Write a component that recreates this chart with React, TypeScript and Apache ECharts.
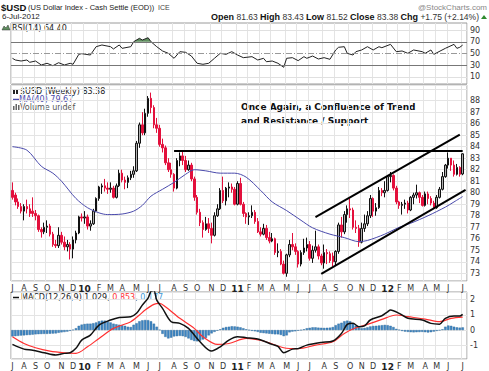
import React, { useEffect, useRef } from 'react';
import * as echarts from 'echarts';

// ---- categories: weekly bars (Fridays) 10-Jul-2009 .. 6-Jul-2012, plus one blank slot of padding
const FIRST_WEEK = Date.UTC(2009, 6, 10);
const N_WEEKS = 157;
const WEEKS: string[] = [];
for (let i = 0; i < N_WEEKS; i++) {
  WEEKS.push(new Date(FIRST_WEEK + i * 7 * 86400000).toISOString().slice(0, 10));
}
const CATEGORIES: string[] = [...WEEKS, ''];
const MONTH_LETTERS = 'JFMAMJJASOND';

// ---- weekly candles [open, close, low, high]
const CANDLES: number[][] = [
  [80.2, 79.6, 79.4, 80.9], [79.8, 79.2, 78.9, 80.0], [79.2, 78.8, 78.6, 79.5], [78.8, 78.4, 78.2, 79.1],
  [78.4, 78.8, 77.6, 79.0], [78.8, 78.6, 78.2, 79.4], [78.6, 78.2, 77.9, 79.0], [78.4, 78.2, 77.9, 79.6],
  [78.2, 78.0, 77.6, 78.5], [78.0, 76.8, 76.6, 78.1], [76.8, 76.6, 76.1, 77.0], [76.6, 77.0, 76.4, 77.4],
  [77.0, 77.1, 76.5, 77.6], [77.1, 76.4, 76.2, 77.3], [76.4, 75.5, 75.3, 76.6], [75.5, 75.4, 75.2, 75.9],
  [75.4, 76.3, 75.2, 77.0], [76.3, 75.7, 75.5, 76.6], [75.7, 75.3, 75.0, 76.2], [75.3, 75.5, 74.9, 75.9],
  [75.5, 75.1, 74.2, 75.7], [75.1, 75.9, 74.3, 76.2], [75.9, 76.5, 75.6, 76.7], [76.5, 77.9, 76.4, 78.0],
  [77.9, 77.8, 77.5, 78.2], [77.8, 77.9, 77.3, 78.4], [77.9, 77.1, 76.8, 78.1], [77.1, 77.3, 76.7, 77.6],
  [77.3, 78.4, 77.2, 78.6], [78.4, 79.5, 78.3, 79.6], [79.5, 80.5, 79.3, 80.6], [80.5, 80.6, 79.9, 80.8],
  [80.6, 80.4, 80.1, 81.2], [80.4, 80.3, 79.9, 80.9], [80.3, 80.4, 80.0, 80.9], [80.4, 79.6, 79.5, 80.6],
  [79.6, 80.6, 79.5, 80.8], [80.6, 81.7, 80.5, 82.0], [81.7, 81.1, 80.9, 82.0], [81.1, 80.9, 80.3, 81.4],
  [80.9, 81.3, 80.4, 81.5], [81.3, 81.6, 81.1, 81.9], [81.6, 81.9, 81.3, 82.3], [81.9, 84.3, 81.8, 84.5],
  [84.3, 85.9, 83.9, 86.1], [85.9, 85.2, 85.0, 87.0], [85.2, 86.9, 85.0, 87.3], [86.9, 88.2, 86.6, 88.4],
  [88.2, 87.4, 86.9, 88.7], [87.4, 85.9, 85.6, 87.6], [85.9, 85.6, 85.2, 86.5], [85.6, 84.2, 84.0, 85.9],
  [84.2, 83.9, 83.5, 84.7], [83.9, 82.6, 82.4, 84.1], [82.6, 82.0, 81.8, 83.0], [82.0, 81.6, 81.3, 82.6],
  [81.6, 80.4, 80.1, 81.7], [80.4, 82.8, 80.3, 83.0], [82.8, 83.2, 82.3, 83.5], [83.2, 82.8, 82.4, 83.6],
  [82.8, 82.0, 81.8, 83.2], [82.0, 82.4, 81.9, 82.8], [82.4, 81.2, 81.0, 82.6], [81.2, 79.6, 79.3, 81.4],
  [79.6, 78.3, 78.1, 79.8], [78.3, 77.4, 77.1, 78.6], [77.4, 76.8, 76.1, 77.6], [76.8, 77.3, 76.7, 77.9],
  [77.3, 76.9, 76.5, 77.8], [76.9, 76.3, 75.6, 77.4], [76.3, 78.0, 76.2, 78.3], [78.0, 78.6, 77.9, 79.0],
  [78.6, 80.2, 78.5, 80.4], [80.2, 79.3, 79.1, 81.4], [79.3, 80.4, 78.9, 80.5], [80.4, 80.5, 79.6, 80.9],
  [80.5, 80.3, 80.0, 80.8], [80.3, 79.0, 78.9, 80.5], [79.0, 80.8, 78.9, 81.0], [80.8, 79.0, 78.9, 81.3],
  [79.0, 78.2, 77.9, 79.2], [78.2, 77.9, 77.3, 78.3], [77.9, 78.0, 77.2, 78.3], [78.0, 78.3, 77.8, 78.9],
  [78.3, 77.5, 77.3, 78.5], [77.5, 76.6, 76.5, 77.8], [76.6, 76.4, 76.2, 77.0], [76.4, 76.9, 76.3, 77.3],
  [76.9, 76.1, 75.9, 77.2], [76.1, 75.8, 75.6, 76.6], [75.8, 76.0, 75.7, 76.5], [76.0, 74.8, 74.6, 76.1],
  [74.8, 74.9, 74.4, 75.6], [74.9, 73.8, 73.7, 75.1], [73.8, 73.0, 72.9, 74.1], [73.0, 74.6, 72.7, 74.7],
  [74.6, 75.5, 74.4, 75.9], [75.5, 75.3, 75.0, 76.5], [75.3, 74.9, 74.6, 75.6], [74.9, 73.8, 73.5, 75.0],
  [73.8, 74.8, 73.6, 75.0], [74.8, 75.2, 74.6, 76.0], [75.2, 75.5, 74.9, 76.1], [75.5, 74.3, 74.1, 75.8],
  [74.3, 75.0, 73.9, 75.4], [75.0, 75.3, 74.8, 76.7], [75.3, 74.5, 74.2, 75.5], [74.5, 73.9, 73.7, 74.7],
  [73.9, 74.8, 73.4, 75.5], [74.8, 74.7, 73.8, 75.1], [74.7, 74.1, 73.9, 74.9], [74.5, 74.0, 73.6, 74.8],
  [74.0, 74.9, 73.7, 75.0], [74.9, 77.2, 74.7, 77.4], [77.2, 76.6, 76.1, 77.9], [76.6, 78.1, 76.4, 78.4],
  [78.1, 78.6, 77.4, 78.9], [78.6, 78.5, 77.8, 79.5], [78.5, 77.0, 76.8, 78.7], [77.0, 76.9, 76.5, 77.6],
  [76.9, 75.7, 75.3, 77.2], [75.7, 76.9, 75.6, 77.4], [76.9, 77.3, 76.6, 78.1], [77.3, 78.0, 77.1, 78.4],
  [78.0, 79.5, 77.8, 79.8], [79.5, 78.4, 77.9, 79.6], [78.4, 78.7, 78.0, 79.1], [78.7, 80.2, 78.6, 80.5],
  [80.2, 80.0, 79.7, 80.4], [80.0, 80.2, 79.6, 81.0], [80.2, 81.4, 80.1, 81.5], [81.4, 81.5, 80.9, 81.8],
  [81.5, 80.4, 80.2, 81.6], [80.4, 79.2, 79.0, 80.6], [79.2, 78.9, 78.6, 79.3], [78.9, 79.0, 78.1, 79.2],
  [79.0, 79.1, 78.6, 79.4], [79.1, 78.5, 78.2, 79.3], [78.5, 79.6, 78.4, 79.7], [79.6, 79.8, 79.0, 80.0],
  [79.8, 80.0, 79.5, 80.7], [80.0, 79.6, 79.1, 80.1], [79.6, 78.9, 78.8, 79.8], [78.9, 79.9, 78.8, 80.1],
  [79.9, 79.5, 79.0, 80.1], [79.5, 79.1, 78.9, 79.7], [79.1, 78.7, 78.6, 79.3], [78.7, 79.6, 78.6, 79.8],
  [79.6, 80.3, 79.5, 80.5], [80.3, 81.4, 80.2, 81.8], [81.4, 82.4, 81.3, 82.5], [82.4, 83.0, 82.1, 83.5],
  [83.0, 82.4, 81.9, 83.0], [82.4, 81.6, 81.4, 82.8], [81.6, 82.2, 81.5, 82.5], [82.2, 81.6, 81.4, 82.3],
  [81.63, 83.38, 81.52, 83.43],
];

// ---- MA(40): [week index, value]
const MA40: number[][] = [
  [0, 84.0], [5, 83.7], [10, 82.3], [14, 81.7], [17, 81.0], [22, 79.5], [26, 78.7], [30, 78.25],
  [33, 78.1], [38, 78.15], [42, 78.4], [45, 78.9], [48, 79.7], [52, 80.3], [56, 80.9], [60, 81.6],
  [63, 82.0], [67, 81.9], [72, 81.7], [77, 81.7], [81, 81.35], [86, 80.2], [90, 79.2], [95, 78.45],
  [100, 77.6], [104, 76.95], [110, 76.4], [115, 76.1], [120, 75.75], [123, 75.85], [129, 76.4],
  [134, 77.0], [138, 77.35], [144, 78.0], [150, 78.75], [153, 79.2], [156, 79.67],
];

// ---- RSI(14): [week index, value]
const RSI14: number[][] = [
  [0, 41.8], [1, 38.9], [3, 37.2], [5, 38.9], [6, 35], [8, 37.2], [10, 30.4], [12, 33.3], [14, 29.2],
  [16, 34.3], [18, 30.4], [20, 33.3], [21, 31.6], [23, 48.6], [24, 49.7], [27, 47.4], [29, 61.6],
  [31, 64.5], [34, 61.6], [35, 57.7], [37, 64.5], [38, 58.8], [41, 61.6], [42, 70.1], [44, 75.9],
  [45, 73], [47, 76.9], [48, 70.1], [50, 61.6], [52, 54.3], [54, 50.3], [56, 41.8], [58, 53.1],
  [60, 52], [62, 45.7], [64, 33.3], [66, 31.6], [68, 33.3], [70, 41.8], [72, 50.3], [74, 48.6],
  [76, 53.1], [78, 47.4], [80, 42.9], [83, 44.6], [85, 38.9], [87, 41.8], [88, 36], [90, 37.2],
  [92, 33.3], [94, 26.5], [95, 41.8], [97, 42.9], [99, 37.8], [101, 44.6], [102, 41.8], [104, 45.7],
  [106, 40.6], [108, 42.9], [110, 40.1], [112, 56], [113, 60.6], [115, 61.6], [116, 50.3], [118, 47.4],
  [119, 53.1], [121, 56], [123, 61.6], [125, 56], [127, 61.6], [128, 59.9], [131, 65.6], [133, 53.1],
  [135, 54.3], [137, 50.3], [139, 56], [142, 53.1], [143, 50.3], [145, 56], [146, 48.6], [150, 58.8],
  [153, 65.6], [154, 58.8], [155, 60.6], [156, 64.4],
];
const RSI_OVERBOUGHT: number[][] = [[42, 70], [44, 75.9], [45, 73], [47, 76.9], [48, 70]];
const RSI_TICKS = [10, 30, 50, 70, 90];

// ---- MACD(12,26,9)
const MACD_LINE: number[][] = [
  [0, -0.94], [4, -1.25], [7, -1.32], [11, -1.49], [15, -1.64], [18, -1.53], [20, -1.49], [22, -1.2],
  [24, -0.66], [27, -0.33], [30, 0.33], [34, 0.66], [37, 0.83], [41, 0.88], [43, 1.1], [45, 1.64],
  [47, 2.1], [48, 2.55], [49, 2.6], [50, 1.97], [52, 1.43], [55, 0.55], [58, 0.44], [61, 0.11],
  [65, -0.77], [69, -1.38], [72, -1.1], [75, -0.66], [78, -0.44], [81, -0.5], [85, -0.59], [90, -0.94],
  [92, -1.07], [94, -1.49], [97, -1.25], [99, -1.22], [102, -0.99], [107, -0.81], [111, -0.72],
  [114, -0.22], [116, 0.37], [118, 0.44], [120, 0.22], [122, 0.28], [124, 0.66], [128, 0.94],
  [130, 1.2], [131, 1.32], [134, 1.1], [137, 0.77], [142, 0.66], [145, 0.44], [148, 0.39], [150, 0.77],
  [153, 0.92], [155, 0.92], [156, 1.029],
];
const MACD_SIGNAL: number[][] = [
  [0, -0.44], [4, -0.88], [8, -1.16], [13, -1.38], [18, -1.49], [22, -1.53], [26, -1.1], [30, -0.55],
  [35, 0.11], [41, 0.55], [44, 0.99], [46, 1.32], [49, 1.69], [51, 1.75], [53, 1.53], [58, 0.77],
  [63, 0.11], [66, -0.44], [71, -0.94], [75, -0.88], [81, -0.55], [87, -0.72], [94, -1.16], [99, -1.22],
  [105, -0.99], [111, -0.77], [115, -0.22], [119, 0.15], [123, 0.37], [128, 0.7], [133, 0.99],
  [137, 0.88], [143, 0.72], [148, 0.55], [152, 0.77], [156, 0.853],
];
const MACD_HIST: number[] = [
  -0.42, -0.40, -0.38,
  -0.36, -0.35, -0.33, -0.32, -0.30, -0.28,
  -0.27, -0.26, -0.25, -0.25, -0.24, -0.23, -0.22,
  -0.18, -0.15, -0.13, -0.10,
  -0.05, 0.02, 0.12,
  0.28,
  0.36, 0.40, 0.42, 0.42, 0.45, 0.50,
  0.58, 0.62, 0.62, 0.58,
  0.50, 0.42, 0.38, 0.35, 0.32, 0.28,
  0.22, 0.20,
  0.35, 0.45,
  0.58, 0.64, 0.66, 0.65, 0.58,
  0.42, 0.22, 0.02,
  -0.25, -0.45, -0.55, -0.50,
  -0.42, -0.40, -0.38, -0.40, -0.45,
  -0.55, -0.65, -0.72, -0.74, -0.70,
  -0.62, -0.52, -0.35,
  -0.22, -0.12, -0.04, 0.05,
  0.15, 0.20, 0.22,
  0.25, 0.24, 0.22, 0.18, 0.12,
  0.05, 0.0, -0.05, -0.08, -0.12,
  -0.18, -0.20, -0.22, -0.24, -0.26, -0.28, -0.28, -0.32,
  -0.40, -0.35,
  -0.15, -0.10, -0.08, -0.04,
  0.0, 0.05,
  0.12, 0.15, 0.18, 0.18, 0.16, 0.15, 0.14, 0.15, 0.16, 0.20,
  0.32, 0.42, 0.48,
  0.58, 0.62, 0.58, 0.42,
  0.28, 0.15,
  0.12, 0.14, 0.18,
  0.24, 0.27, 0.28, 0.30, 0.32, 0.34, 0.32, 0.28, 0.20,
  0.08, 0.02,
  -0.06, -0.10, -0.12, -0.14, -0.15, -0.14, -0.13, -0.12, -0.14, -0.16, -0.14, -0.10, -0.06,
  -0.02, 0.05,
  0.22, 0.30, 0.28,
  0.22, 0.18, 0.16, 0.177,
];

const PRICE_TICKS = [73, 74, 75, 76, 77, 78, 79, 80, 81, 82, 83, 84, 85, 86, 87, 88];
const MACD_TICKS = [-1, 0, 1, 2];

// ---- drawn annotations (resistance line and trend channel): [[week, value], [week, value]]
const RESISTANCE: number[][] = [[56, 83.65], [156, 83.65]];
const CHANNEL_UPPER: number[][] = [[105, 77.87], [155, 85.05]];
const CHANNEL_LOWER: number[][] = [[107, 72.94], [157, 80.25]];

const FONT = '"DejaVu Sans", Verdana, sans-serif';
const SANS = '"Liberation Sans", Arial, sans-serif';
const GRID_LEFT = 11;
const GRID_RIGHT = 22;

const MONTH_START: boolean[] = CATEGORIES.map((d, i) => {
  if (!d) return false;
  if (i === 0) return true;
  return d.slice(5, 7) !== CATEGORIES[i - 1].slice(5, 7);
});

function monthLabel(v: string) {
  if (!v) return '';
  const d = new Date(v + 'T00:00:00Z');
  const m = d.getUTCMonth();
  if (m === 0) return '{y|' + String(d.getUTCFullYear()).slice(2) + '}';
  return MONTH_LETTERS[m];
}

function xAxis(gridIndex: number, showLabels: boolean) {
  return {
    type: 'category',
    gridIndex,
    data: CATEGORIES,
    boundaryGap: true,
    axisLine: { show: false },
    axisTick: { show: false },
    axisLabel: {
      show: showLabels,
      interval: (i: number) => MONTH_START[i],
      formatter: monthLabel,
      fontSize: 8,
      fontFamily: FONT,
      color: '#333',
      margin: 3,
      rich: { y: { fontWeight: 'bold', fontSize: 9, fontFamily: FONT, color: '#222' } },
    },
    splitLine: { show: true, interval: (i: number) => MONTH_START[i], lineStyle: { color: '#e4e4e4', width: 1 } },
  };
}

const tickFormatter = (ticks: number[]) => (v: number) => {
  const r = Math.round(v);
  return Math.abs(v - r) < 1e-6 && ticks.includes(r) ? String(r) : '';
};

function segment(p: number[][]) {
  return [{ coord: p[0] }, { coord: p[1] }];
}

function buildOption(): any {
  const rsiLine = (v: number, color: string, type: any) => ({
    yAxis: v,
    lineStyle: { color, width: 1, type },
    label: { show: true, position: 'end', formatter: String(v), fontSize: 8, fontFamily: FONT, color: '#333', distance: 3 },
  });
  return {
    animation: false,
    backgroundColor: '#ffffff',
    textStyle: { fontFamily: FONT },
    grid: [
      { left: GRID_LEFT, right: GRID_RIGHT, top: 23, height: 61, show: true, borderColor: '#9a9a9a', borderWidth: 1, backgroundColor: '#fff', containLabel: false, outerBoundsMode: 'none' },
      { left: GRID_LEFT, right: GRID_RIGHT, top: 85, height: 196, show: true, borderColor: '#9a9a9a', borderWidth: 1, backgroundColor: '#fff', containLabel: false, outerBoundsMode: 'none' },
      { left: GRID_LEFT, right: GRID_RIGHT, top: 292, height: 67, show: true, borderColor: '#9a9a9a', borderWidth: 1, backgroundColor: '#fff', containLabel: false, outerBoundsMode: 'none' },
    ],
    xAxis: [xAxis(0, false), xAxis(1, true), xAxis(2, true)],
    yAxis: [
      {
        type: 'value', gridIndex: 0, position: 'right', min: -2, max: 102,
        axisLabel: { show: false }, splitLine: { show: false }, axisLine: { show: false }, axisTick: { show: false },
      },
      {
        type: 'value', gridIndex: 1, position: 'right', min: 72.33, max: 89.36,
        splitNumber: 17, minInterval: 1, maxInterval: 1,
        axisLabel: { formatter: tickFormatter(PRICE_TICKS), fontSize: 8, fontFamily: FONT, color: '#333', margin: 3 },
        splitLine: { show: true, lineStyle: { color: '#e4e4e4', width: 1 } },
        axisLine: { show: false }, axisTick: { show: false },
      },
      {
        type: 'value', gridIndex: 2, position: 'right', min: -1.9, max: 2.5,
        splitNumber: 4, minInterval: 1, maxInterval: 1,
        axisLabel: { formatter: tickFormatter(MACD_TICKS), fontSize: 8, fontFamily: FONT, color: '#333', margin: 3 },
        splitLine: { show: true, lineStyle: { color: '#e4e4e4', width: 1 } },
        axisLine: { show: false }, axisTick: { show: false },
      },
    ],
    series: [
      {
        name: 'RSI overbought', type: 'line', xAxisIndex: 0, yAxisIndex: 0, data: RSI_OVERBOUGHT,
        symbol: 'none', lineStyle: { width: 0 }, areaStyle: { color: '#5f8f5f', opacity: 1, origin: 70 }, silent: true, z: 2,
      },
      {
        name: 'RSI(14)', type: 'line', xAxisIndex: 0, yAxisIndex: 0, data: RSI14,
        symbol: 'none', lineStyle: { color: '#222', width: 1 }, z: 3,
        markLine: {
          silent: true, symbol: ['none', 'none'], animation: false,
          data: [
            rsiLine(RSI_TICKS[0], '#e0e0e0', 'solid'),
            rsiLine(RSI_TICKS[1], '#777', 'solid'),
            rsiLine(RSI_TICKS[2], '#999', [6, 2, 1, 2]),
            rsiLine(RSI_TICKS[3], '#777', 'solid'),
            rsiLine(RSI_TICKS[4], '#e0e0e0', 'solid'),
          ],
        },
      },
      {
        name: '$USD', type: 'candlestick', xAxisIndex: 1, yAxisIndex: 1, data: CANDLES, barWidth: 2,
        itemStyle: { color: '#b0b0b0', color0: '#e3103c', borderColor: '#111111', borderColor0: '#e3103c', borderWidth: 1 },
        z: 3,
        markLine: {
          silent: true, symbol: ['none', 'none'], animation: false,
          lineStyle: { color: '#000', width: 2, type: 'solid' },
          label: { show: false },
          data: [segment(RESISTANCE), segment(CHANNEL_UPPER), segment(CHANNEL_LOWER)],
        },
      },
      {
        name: 'MA(40)', type: 'line', xAxisIndex: 1, yAxisIndex: 1, data: MA40, smooth: 0.3,
        symbol: 'none', lineStyle: { color: '#4a4aac', width: 1 }, z: 4,
      },
      {
        name: 'Histogram', type: 'bar', xAxisIndex: 2, yAxisIndex: 2, data: MACD_HIST, barWidth: 2.4,
        itemStyle: { color: '#3f86c4', borderColor: '#2a6797', borderWidth: 0.4 }, z: 2,
      },
      {
        name: 'Signal', type: 'line', xAxisIndex: 2, yAxisIndex: 2, data: MACD_SIGNAL, smooth: 0.3,
        symbol: 'none', lineStyle: { color: '#ff3030', width: 1.2 }, z: 3,
      },
      {
        name: 'MACD', type: 'line', xAxisIndex: 2, yAxisIndex: 2, data: MACD_LINE, smooth: 0.3,
        symbol: 'none', lineStyle: { color: '#111', width: 1.5 }, z: 4,
      },
    ],
    graphic: [
      { type: 'text', x: 1, y: 2, style: { text: '$USD', font: 'bold 9.5px ' + SANS, fill: '#111', verticalAlign: 'top' } },
      { type: 'text', x: 28, y: 3.5, style: { text: '(US Dollar Index - Cash Settle (EOD))', font: '7.5px ' + SANS, fill: '#222', verticalAlign: 'top' } },
      { type: 'text', x: 158, y: 4, style: { text: 'ICE', font: '7px ' + SANS, fill: '#444', verticalAlign: 'top' } },
      { type: 'text', x: 487, y: 3, style: { text: '@StockCharts.com', font: '8px ' + SANS, fill: '#888', align: 'right', verticalAlign: 'top' } },
      { type: 'text', x: 2, y: 12, style: { text: '6-Jul-2012', font: '8px ' + SANS, fill: '#222', verticalAlign: 'top' } },
      {
        type: 'text', x: 479, y: 12,
        style: {
          text: '{b|Open} 81.63 {b|High} 83.43 {b|Low} 81.52 {b|Close} 83.38 {b|Chg} +1.75 (+2.14%)',
          font: '8.5px ' + SANS, fill: '#333', align: 'right', verticalAlign: 'top',
          rich: { b: { fontWeight: 'bold', fontSize: 9, fontFamily: SANS, fill: '#111' } },
        },
      },
      { type: 'polygon', shape: { points: [[481, 19], [484, 15], [487, 19]] }, style: { fill: '#2e8b2e' } },
      // RSI legend
      { type: 'polygon', shape: { points: [[2, 30], [4, 26], [6, 28], [8, 25], [10, 30]] }, style: { fill: '#5f8f5f', stroke: '#333', lineWidth: 0.5 } },
      { type: 'text', x: 12, y: 24, style: { text: 'RSI(14) 64.40', font: '8px ' + FONT, fill: '#222', verticalAlign: 'top' } },
      // main legend
      { type: 'rect', shape: { x: 13, y: 89, width: 2, height: 5 }, style: { fill: '#222' } },
      { type: 'rect', shape: { x: 16, y: 90, width: 2, height: 4 }, style: { fill: '#222' } },
      { type: 'text', x: 20, y: 87, style: { text: '$USD (Weekly) 83.38', font: '8px ' + FONT, fill: '#222', verticalAlign: 'top' } },
      { type: 'line', shape: { x1: 13, y1: 99.5, x2: 19, y2: 99.5 }, style: { stroke: '#4a4aac', lineWidth: 1.5 } },
      { type: 'text', x: 19, y: 95, style: { text: 'MA(40) 79.67', font: '8px ' + FONT, fill: '#4a4aac', verticalAlign: 'top' } },
      { type: 'rect', shape: { x: 13, y: 106, width: 1.5, height: 4 }, style: { fill: '#666' } },
      { type: 'rect', shape: { x: 15.5, y: 104, width: 1.5, height: 6 }, style: { fill: '#666' } },
      { type: 'rect', shape: { x: 18, y: 105, width: 1.5, height: 5 }, style: { fill: '#666' } },
      { type: 'text', x: 20, y: 103, style: { text: 'Volume undef', font: '8px ' + FONT, fill: '#555', verticalAlign: 'top' } },
      // annotation
      {
        type: 'text', x: 241, y: 100,
        style: {
          text: 'Once Again, a Confluence of Trend\nand Resistance / Support',
          font: 'bold 9px ' + FONT, fill: '#111', verticalAlign: 'top', lineHeight: 14,
        },
      },
      // MACD legend
      { type: 'line', shape: { x1: 13, y1: 297.5, x2: 19, y2: 297.5 }, style: { stroke: '#111', lineWidth: 1.5 } },
      {
        type: 'text', x: 21, y: 293,
        style: {
          text: 'MACD(12,26,9) 1.029, {r|0.853}, {b|0.177}',
          font: '8px ' + FONT, fill: '#222', verticalAlign: 'top',
          rich: { r: { fill: '#ff3030', fontSize: 8, fontFamily: FONT }, b: { fill: '#3f9ad8', fontSize: 8, fontFamily: FONT } },
        },
      },
    ],
  };
}

export default function App() {
  const ref = useRef<HTMLDivElement>(null);
  useEffect(() => {
    document.body.style.margin = '0';
    const chart = echarts.init(ref.current!, null, { renderer: 'svg' });
    chart.setOption(buildOption());
    return () => chart.dispose();
  }, []);
  return <div ref={ref} style={{ width: 489, height: 371 }} />;
}
